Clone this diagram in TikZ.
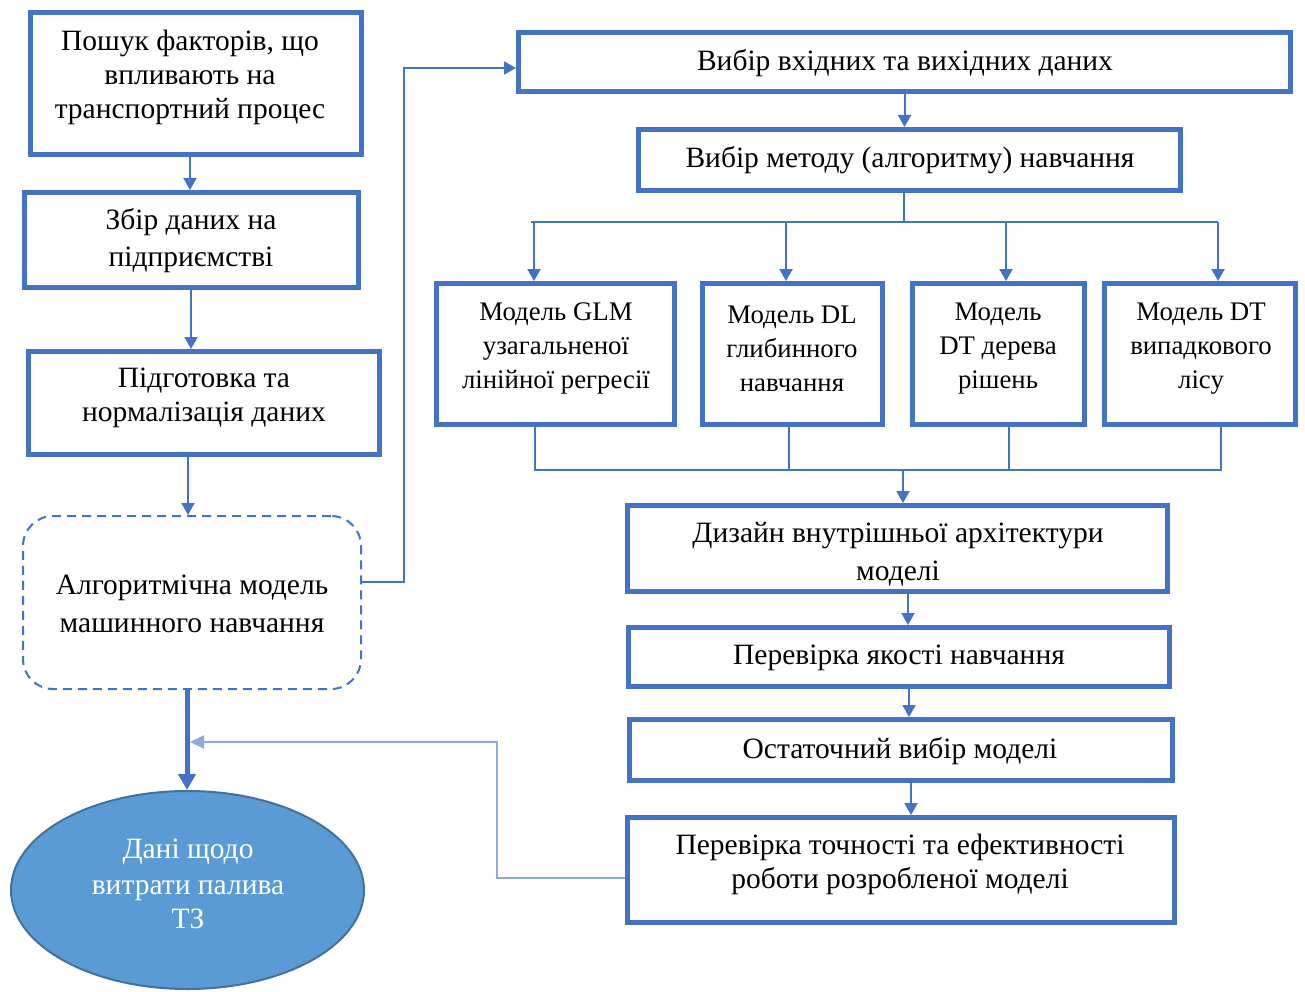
\documentclass[tikz,border=0pt]{standalone}
\usepackage{fontspec}
\setmainfont{Liberation Serif}
\usetikzlibrary{arrows.meta,shapes.geometric}
\definecolor{boxblue}{HTML}{4472C4}
\definecolor{ellfill}{HTML}{5B9BD5}
\definecolor{elledge}{HTML}{41719C}
\definecolor{backblue}{HTML}{8FAADC}
\tikzset{
  box/.style={draw=boxblue, line width=5pt, inner sep=0pt},
  txt/.style={font=\fontsize{29.5}{34}\selectfont, align=center, inner sep=0pt},
  smalltxt/.style={font=\fontsize{26.8}{34}\selectfont, align=center, inner sep=0pt},
  wire/.style={draw=boxblue, line width=2pt},
  link/.style={wire, -{Triangle[width=13pt,length=12pt]}},
}
\begin{document}
\begin{tikzpicture}[x=1pt,y=-1pt]
\useasboundingbox (0,0) rectangle (1305,992);

% left column
\node[box, minimum width=331pt, minimum height=142pt] (b1) at (196,83.5) {};
\node[box, minimum width=334pt, minimum height=95pt] (b2) at (191.5,240) {};
\node[box, minimum width=351pt, minimum height=103pt] (b3) at (204,403) {};
\node[draw=boxblue, line width=2pt, dash pattern=on 9pt off 6pt, rounded corners=30pt,
      minimum width=338pt, minimum height=173pt, inner sep=0pt] (d) at (192,602.5) {};
\node[ellipse, draw=elledge, line width=2pt, fill=ellfill,
      minimum width=353pt, minimum height=198pt, inner sep=0pt] (e) at (187.5,890) {};

\node[txt] (t1) at (190,77) {Пошук факторів, що\\впливають на\\транспортний процес};
\node[txt] (t2) at (191,240.5) {Збір даних на\\[3pt]підприємстві};
\node[txt] (t3) at (204,398) {Підготовка та\\нормалізація даних};
\node[txt] (td) at (192,604) {Алгоритмічна модель\\[4pt]машинного навчання};
\node[txt, text=white] (te) at (188,884) {Дані щодо\\[2pt]витрати палива\\ТЗ};

% right column
\node[box, minimum width=772pt, minimum height=59pt] (r1) at (904.5,62) {};
\node[box, minimum width=542pt, minimum height=61pt] (r2) at (909.5,160) {};
\node[box, minimum width=238pt, minimum height=141pt] (m1) at (555.5,354) {};
\node[box, minimum width=180pt, minimum height=141pt] (m2) at (792.5,354) {};
\node[box, minimum width=172pt, minimum height=141pt] (m3) at (998.5,354) {};
\node[box, minimum width=191pt, minimum height=141pt] (m4) at (1200,354) {};
\node[box, minimum width=540pt, minimum height=86pt] (r3) at (897.5,548.5) {};
\node[box, minimum width=541pt, minimum height=59pt] (r4) at (899,657) {};
\node[box, minimum width=543pt, minimum height=61pt] (r5) at (901,750) {};
\node[box, minimum width=547pt, minimum height=105pt] (r6) at (901,870) {};

\node[txt] (s1) at (905,63) {Вибір вхідних та вихідних даних};
\node[txt] (s2) at (910,160) {Вибір методу (алгоритму) навчання};
\node[smalltxt] (n1) at (556,348) {Модель GLM\\узагальненої\\лінійної регресії};
\node[smalltxt] (n2) at (792,348.5) {Модель DL\\глибинного\\навчання};
\node[smalltxt] (n3) at (998,348.5) {Модель\\DT дерева\\рішень};
\node[smalltxt] (n4) at (1201,348.5) {Модель DT\\випадкового\\лісу};
\node[txt] (s3) at (898,554) {Дизайн внутрішньої архітектури\\[4pt]моделі};
\node[txt] (s4) at (899,658) {Перевірка якості навчання};
\node[txt] (s5) at (900,751) {Остаточний вибір моделі};
\node[txt] (s6) at (900,864.5) {Перевірка точності та ефективності\\роботи розробленої моделі};

% left column connectors
\draw[link] ([xshift=-6pt]b1.south) -- ([xshift=-6pt]b1.south |- b2.north);
\draw[link] ([xshift=-0.5pt]b2.south) -- ([xshift=-0.5pt]b2.south |- b3.north);
\draw[link] ([xshift=-16pt]b3.south) -- ([xshift=-16pt]b3.south |- d.north);
\draw[draw=boxblue, line width=5pt, -{Triangle[width=17pt,length=16pt]}]
  ([xshift=-5pt]d.south) -- ([xshift=-5pt]d.south |- e.north);

% from the model block to the data selection
\draw[link] ([yshift=20.5pt]d.east) -- ++(42,0) |- ([yshift=-6pt]r1.west);

% right column connectors
\draw[link] (r1.south) -- (r1.south |- r2.north);
\coordinate (br) at ([xshift=-5.5pt,yshift=-29pt]r2.south);
\draw[wire] ([xshift=-5.5pt]r2.south) -- (br);
\draw[wire] ([xshift=-24.5pt]m1.north |- br) -- ([xshift=18pt]m4.north |- br);
\draw[link] ([xshift=-21.5pt]m1.north |- br) -- ([xshift=-21.5pt]m1.north);
\draw[link] ([xshift=-6.5pt]m2.north |- br) -- ([xshift=-6.5pt]m2.north);
\draw[link] ([xshift=7.5pt]m3.north |- br) -- ([xshift=7.5pt]m3.north);
\draw[link] ([xshift=18pt]m4.north |- br) -- ([xshift=18pt]m4.north);

\coordinate (mg) at ([xshift=5.5pt,yshift=-43pt]m1.south -| r3.north);
\draw[wire] ([xshift=-20.5pt]m1.south) -- ([xshift=-20.5pt]m1.south |- mg)
  -- ([xshift=21pt]m4.south |- mg) -- ([xshift=21pt]m4.south);
\draw[wire] ([xshift=-3.5pt]m2.south) -- ([xshift=-3.5pt]m2.south |- mg);
\draw[wire] ([xshift=10.5pt]m3.south) -- ([xshift=10.5pt]m3.south |- mg);
\draw[link] (mg) -- (mg |- r3.north);

\draw[link] ([xshift=10.5pt]r3.south) -- ([xshift=10.5pt]r3.south |- r4.north);
\draw[link] ([xshift=10pt]r4.south) -- ([xshift=10pt]r4.south |- r5.north);
\draw[link] ([xshift=10pt]r5.south) -- ([xshift=10pt]r5.south |- r6.north);

% feedback to the fuel data
\coordinate (fb) at (190,742);
\draw[draw=backblue, line width=2pt, -{Triangle[width=13pt,length=14pt]}]
  ([yshift=-8pt]r6.west) -| (497,742) -- (fb);
\end{tikzpicture}
\end{document}
